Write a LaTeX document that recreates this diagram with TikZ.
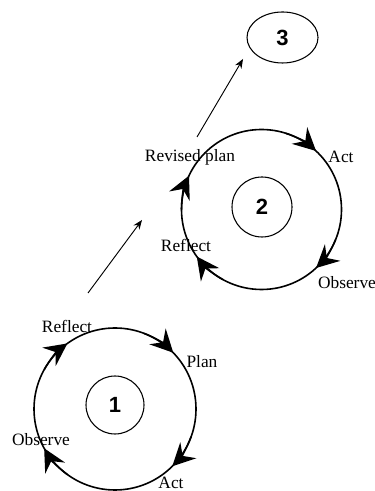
\documentclass[tikz,border=0pt]{standalone}
\usepackage{fontspec}
\setmainfont{Liberation Serif}
\newfontfamily\numfont{Liberation Sans}
\usetikzlibrary{arrows.meta,shapes.geometric}
\begin{document}
\begin{tikzpicture}[x=0.75pt,y=0.75pt,
  cyc/.style={line width=1.2pt},
  numc/.style={circle, draw, line width=0.8pt, inner sep=0pt, font=\numfont\bfseries\fontsize{16.5}{18}\selectfont},
  lbl/.style={font=\fontsize{13}{15}\selectfont, inner sep=0pt},
  tipar/.style={-{Stealth[length=17pt,width=17pt,inset=6pt]}, line width=1.2pt},
  link/.style={-{Stealth[length=7pt,width=5.5pt]}, line width=0.7pt}]
\useasboundingbox (0,0) rectangle (374,491);
% cycle 1
\coordinate (c1) at (115,82);
\draw[cyc] (c1) circle[radius=81];
\node[numc, minimum size=43.5pt] (n1) at (115,86) {1};
\foreach \a in {126,44,-45,-151} {
  \draw[tipar, shift={(c1)}] (\a+25:81) arc[start angle=\a+25, end angle=\a, radius=81];
}
\node[lbl] (r1) at (67,165) {Reflect};
\node[lbl] (p1) at (202,129) {Plan};
\node[lbl] (o1) at (41,51) {Observe};
\node[lbl] (ac1) at (171,8) {Act};
% cycle 2
\coordinate (c2) at (261.5,281.5);
\draw[cyc] (c2) circle[radius=80];
\node[numc, minimum size=45pt] (n2) at (262,284) {2};
\foreach \a in {47,-47,-144,155} {
  \draw[tipar, shift={(c2)}] (\a+25:80) arc[start angle=\a+25, end angle=\a, radius=80];
}
\node[lbl] (rp2) at (190,334) {Revised plan};
\node[lbl] (ac2) at (341,334) {Act};
\node[lbl] (r2) at (186,246) {Reflect};
\node[lbl] (o2) at (347,208) {Observe};
% stage 3
\node[ellipse, draw, line width=0.8pt, minimum width=53.25pt, minimum height=38.25pt, inner sep=0pt,
  font=\numfont\bfseries\fontsize{16.5}{18}\selectfont] (n3) at (282.5,453.5) {3};
% links
\coordinate (l1s) at (88,198);
\coordinate (l1e) at (142,271);
\coordinate (l2s) at (197,354);
\coordinate (l2e) at (243,432);
\draw[link] (l1s) -- (l1e);
\draw[link] (l2s) -- (l2e);
\end{tikzpicture}
\end{document}
